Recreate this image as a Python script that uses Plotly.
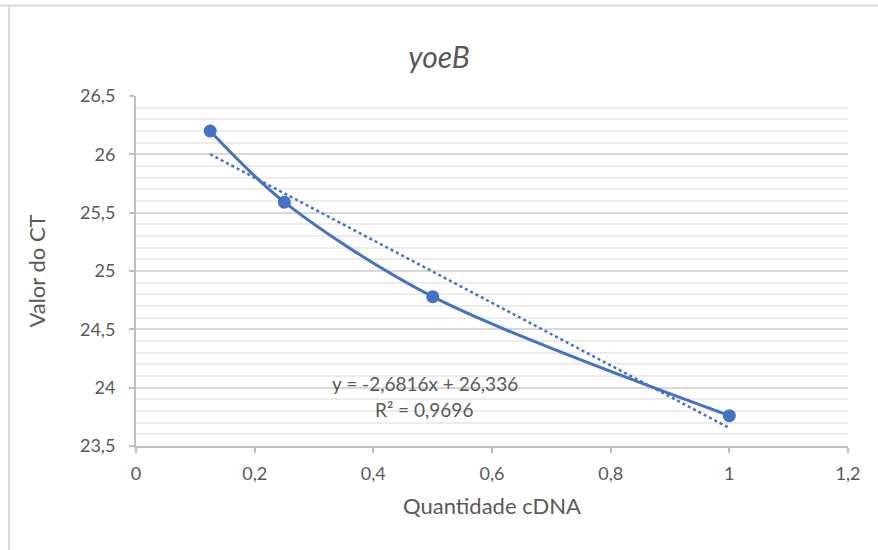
import plotly.graph_objects as go
import numpy as np

title = "yoeB"
x_label = "Quantidade cDNA"
y_label = "Valor do CT"
quantidade = [0.125, 0.25, 0.5, 1.0]
ct = [26.20, 25.59, 24.78, 23.76]
slope = -2.6816
intercept = 26.336
r2 = 0.9696
x_ticks = [0, 0.2, 0.4, 0.6, 0.8, 1.0, 1.2]
x_ticktext = ["0", "0,2", "0,4", "0,6", "0,8", "1", "1,2"]
y_ticks = [23.5, 24, 24.5, 25, 25.5, 26, 26.5]
y_ticktext = ["23,5", "24", "24,5", "25", "25,5", "26", "26,5"]

blue = "#4472C4"
gray_text = "#595959"
font_family = "Lato, 'Open Sans', sans-serif"

trend_x = np.array([min(quantidade), max(quantidade)])
trend_y = slope * trend_x + intercept

fig = go.Figure()
fig.add_trace(go.Scatter(
    x=trend_x, y=trend_y, mode="lines",
    line=dict(color=blue, width=2.5, dash="dot"),
    hoverinfo="skip", showlegend=False,
))
fig.add_trace(go.Scatter(
    x=quantidade, y=ct, mode="lines+markers",
    line=dict(color=blue, width=3, shape="spline", smoothing=0.9),
    marker=dict(color=blue, size=13),
    showlegend=False,
))

def fmt(v, d):
    return f"{v:.{d}f}".replace(".", ",")

eq = f"y = {fmt(slope, 4)}x + {fmt(intercept, 3)}"
r2txt = f"R² = {fmt(r2, 4)}"

fig.add_annotation(x=0.487, y=24.04, xref="x", yref="y", text=eq,
                   showarrow=False, font=dict(size=19, color=gray_text, family=font_family))
fig.add_annotation(x=0.485, y=23.81, xref="x", yref="y", text=r2txt,
                   showarrow=False, font=dict(size=19, color=gray_text, family=font_family))

# outer chart border (top and left visible)
fig.add_shape(type="line", xref="paper", yref="paper", x0=-136/712, x1=(878-136)/712 + 0.01,
              y0=(550-104-5.5)/350, y1=(550-104-5.5)/350, line=dict(color="#d9d9d9", width=2))
fig.add_shape(type="line", xref="paper", yref="paper", x0=-(136-9)/712, x1=-(136-9)/712,
              y0=-104/350 - 0.01, y1=(550-104-5.5)/350, line=dict(color="#d9d9d9", width=2))

fig.update_layout(
    width=878, height=550,
    margin=dict(l=136, r=30, t=96, b=104),
    paper_bgcolor="white", plot_bgcolor="white",
    title=dict(text=f"<i>{title}</i>", x=0.5, xanchor="center", xref="container",
               y=1 - 57/550, yanchor="middle", yref="container",
               font=dict(size=30, color=gray_text, family=font_family)),
    font=dict(family=font_family, color=gray_text),
)
fig.update_xaxes(
    range=[0, 1.2], tickvals=x_ticks, ticktext=x_ticktext,
    showgrid=False, zeroline=False,
    showline=True, linecolor="#bfbfbf", linewidth=2,
    ticks="outside", ticklen=5, tickcolor="#bfbfbf", tickwidth=2,
    ticklabelstandoff=5,
    tickfont=dict(size=18, color=gray_text),
    title=dict(text=x_label, font=dict(size=22, color=gray_text), standoff=16),
)
fig.update_yaxes(
    range=[23.5, 26.5], tickvals=y_ticks, ticktext=y_ticktext,
    showgrid=True, gridcolor="#d9d9d9", gridwidth=1.5, zeroline=False,
    showline=True, linecolor="#bfbfbf", linewidth=2,
    ticks="outside", ticklen=5, tickcolor="#bfbfbf", tickwidth=2,
    ticklabelstandoff=10,
    tickfont=dict(size=18, color=gray_text),
    minor=dict(dtick=0.1, showgrid=True, gridcolor="#ececec", gridwidth=1.5, ticks=""),
    title=dict(text=y_label, font=dict(size=22, color=gray_text), standoff=28),
)

fig.write_html("out.html")
